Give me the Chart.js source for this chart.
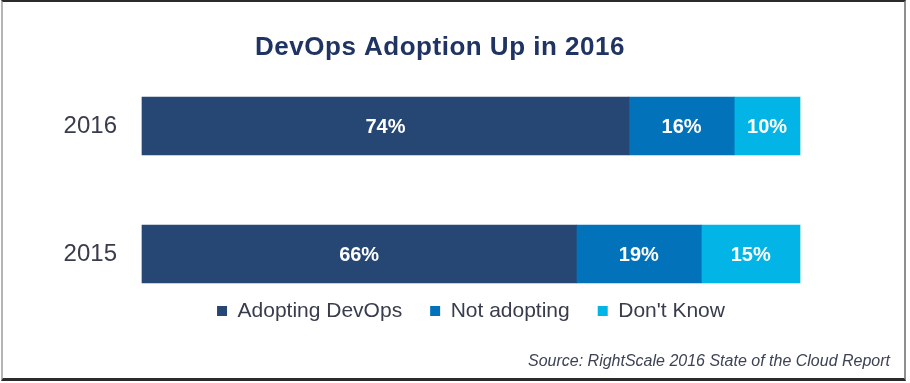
<!DOCTYPE html>
<html>
<head>
<meta charset="utf-8">
<script src="https://cdn.jsdelivr.net/npm/chart.js@4/dist/chart.umd.min.js"></script>
<style>
  html, body { margin: 0; padding: 0; background: #fff; }
  #wrap { position: relative; width: 910px; height: 383px; }
  #frame {
    position: absolute; left: 1px; top: 0; width: 905px; height: 381px;
    box-sizing: border-box; pointer-events: none;
    border-top: 2px solid #2b2b2b; border-bottom: 3px solid #2b2b2b;
    border-left: 2px solid #b5b5b5; border-right: 2px solid #8f8f8f;
  }
</style>
</head>
<body>
<div id="wrap">
  <canvas id="devops" width="910" height="383"></canvas>
  <div id="frame"></div>
</div>
<script>
const years = ['2016', '2015'];
const adopting = [74, 66];
const notAdopting = [16, 19];
const dontKnow = [10, 15];
const seriesNames = ['Adopting DevOps', 'Not adopting', "Don't Know"];
const chartTitle = 'DevOps Adoption Up in 2016';
const sourceNote = 'Source: RightScale 2016 State of the Cloud Report';

const FONT = "'Liberation Sans', Arial, Helvetica, sans-serif";

// white percentage text in the middle of every segment
const valueLabels = {
  id: 'valueLabels',
  afterDatasetsDraw(chart) {
    const ctx = chart.ctx;
    ctx.save();
    ctx.font = 'bold 20px ' + FONT;
    ctx.fillStyle = '#ffffff';
    ctx.textAlign = 'center';
    ctx.textBaseline = 'middle';
    chart.data.datasets.forEach((ds, i) => {
      chart.getDatasetMeta(i).data.forEach((bar, j) => {
        const cx = (bar.x + bar.base) / 2;
        ctx.fillText(ds.data[j] + '%', cx, bar.y + 1);
      });
    });
    ctx.restore();
  }
};

// title sits a bit left of the plot centre and the source note at bottom right,
// so both are drawn here instead of with the built-in title box
const headerFooter = {
  id: 'headerFooter',
  afterDraw(chart) {
    const ctx = chart.ctx;
    ctx.save();
    ctx.textBaseline = 'middle';
    ctx.font = 'bold 26px ' + FONT;
    ctx.fillStyle = '#1f3462';
    ctx.textAlign = 'center';
    ctx.letterSpacing = '0.5px';
    ctx.fillText(chartTitle, 440, 48);
    ctx.letterSpacing = '0px';
    ctx.font = 'italic 16px ' + FONT;
    ctx.fillStyle = '#3d4256';
    ctx.textAlign = 'right';
    ctx.fillText(sourceNote, 890, 362);
    ctx.restore();
  }
};

const barOpts = { barThickness: 58, borderWidth: 0, clip: false };

new Chart(document.getElementById('devops'), {
  type: 'bar',
  data: {
    labels: years,
    datasets: [
      Object.assign({ label: seriesNames[0], data: adopting, backgroundColor: '#264673' }, barOpts),
      Object.assign({ label: seriesNames[1], data: notAdopting, backgroundColor: '#0272ba' }, barOpts),
      Object.assign({ label: seriesNames[2], data: dontKnow, backgroundColor: '#03b5e6' }, barOpts)
    ]
  },
  options: {
    indexAxis: 'y',
    responsive: false,
    animation: false,
    layout: { padding: { left: 40, right: 110, top: 126, bottom: 51.5 } },
    scales: {
      x: {
        stacked: true, min: 0, max: 100,
        ticks: { display: false },
        grid: { display: false, drawTicks: false },
        border: { display: false },
        afterFit: (s) => { s.height = 18.5; }
      },
      y: {
        stacked: true,
        offset: false,
        grid: { display: false, drawTicks: false },
        border: { display: false },
        ticks: { color: '#383c4c', font: { family: FONT, size: 24 }, padding: 25 },
        afterFit: (s) => { s.width = 102; }
      }
    },
    plugins: {
      legend: {
        position: 'bottom',
        fullSize: false,
        labels: {
          color: '#383c4c',
          font: { family: FONT, size: 21 },
          boxWidth: 10, boxHeight: 10,
          padding: 28
        }
      },
      tooltip: { enabled: false }
    }
  },
  plugins: [valueLabels, headerFooter]
});
</script>
</body>
</html>
